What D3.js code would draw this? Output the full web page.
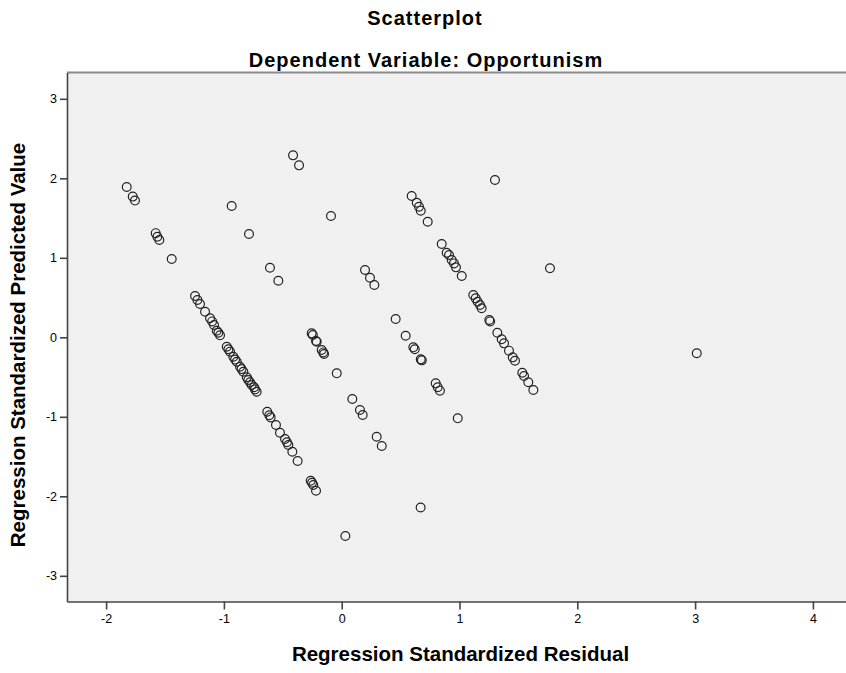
<!DOCTYPE html>
<html>
<head>
<meta charset="utf-8">
<script src="https://cdn.jsdelivr.net/npm/d3@7"></script>
<style>
	body { margin: 0; background: #fff; }
	text { font-family: "Liberation Sans", Arial, sans-serif; fill: #000; }
	.tick text { font-size: 12.5px; }
	.title { font-size: 20px; font-weight: bold; letter-spacing: 1px; }
	.axis-label { font-size: 20.5px; font-weight: bold; }
</style>
</head>
<body>
<script>
// Regression Standardized Residual (x) / Predicted Value (y)
const residual = [
	-1.825, -1.774, -1.755, -1.579, -1.565, -1.548, -1.443,
	-1.245, -1.225, -1.203, -1.16, -1.118, -1.1, -1.084, -1.061, -1.047, -1.033,
	-0.976, -0.962, -0.948, -0.92, -0.905, -0.891, -0.863, -0.85, -0.835, -0.806,
	-0.793, -0.778, -0.764, -0.744, -0.736, -0.722,
	-0.632, -0.615, -0.603, -0.558, -0.524, -0.481, -0.465, -0.453, -0.419, -0.374,
	-0.263, -0.252, -0.241, -0.218,
	-0.934, -0.787, -0.609, -0.538, -0.413, -0.362, -0.091,
	-0.255, -0.245, -0.218, -0.212, -0.17, -0.156, -0.15, -0.042, 0.09, 0.155, 0.178,
	0.297, 0.34, 0.031, 0.67,
	0.198, 0.24, 0.277, 0.458, 0.543, 0.608, 0.62, 0.671, 0.68, 0.798, 0.815, 0.834, 0.985,
	0.594, 0.637, 0.656, 0.671, 0.73, 0.849, 0.891, 0.911, 0.934, 0.953, 0.97, 1.019,
	1.117, 1.137, 1.154, 1.174, 1.188, 1.253, 1.26, 1.321, 1.358, 1.378, 1.42, 1.452,
	1.471, 1.533, 1.548, 1.584, 1.627,
	1.301, 1.768, 3.014
];
const predicted = [
	1.89, 1.77, 1.72, 1.31, 1.265, 1.224, 0.985,
	0.52, 0.47, 0.419, 0.322, 0.239, 0.2, 0.155, 0.083, 0.058, 0.025,
	-0.118, -0.15, -0.18, -0.244, -0.28, -0.307, -0.37, -0.4, -0.433, -0.503,
	-0.537, -0.566, -0.6, -0.629, -0.655, -0.684,
	-0.936, -0.98, -1.007, -1.103, -1.2, -1.28, -1.32, -1.355, -1.439, -1.556,
	-1.804, -1.83, -1.858, -1.93,
	1.652, 1.3, 0.876, 0.712, 2.289, 2.163, 1.526,
	0.05, 0.03, -0.047, -0.055, -0.16, -0.19, -0.21, -0.453, -0.776, -0.914, -0.977,
	-1.25, -1.367, -2.5, -2.14,
	0.847, 0.75, 0.658, 0.23, 0.02, -0.126, -0.15, -0.277, -0.29, -0.579, -0.629, -0.671, -1.019,
	1.777, 1.693, 1.643, 1.593, 1.454, 1.174, 1.064, 1.035, 0.972, 0.93, 0.88, 0.771,
	0.532, 0.49, 0.448, 0.406, 0.365, 0.218, 0.2, 0.058, -0.025, -0.076, -0.168, -0.252,
	-0.294, -0.445, -0.487, -0.566, -0.663,
	1.979, 0.868, -0.201
];
const xTicks = [-2, -1, 0, 1, 2, 3, 4];
const yTicks = [-3, -2, -1, 0, 1, 2, 3];

const points = residual.map((r, i) => ({ r: r, p: predicted[i] }));

const width = 846,
	height = 673;
const plotLeft = 67, plotRight = 846, plotTop = 72.5, plotBottom = 601.5;

const svg = d3.select("body")
	.append("svg")
	.attr("width", width)
	.attr("height", height);

const x = d3.scaleLinear().domain([-2.332, 4.281]).range([plotLeft, plotRight]);
const y = d3.scaleLinear().domain([-3.323, 3.331]).range([plotBottom, plotTop]);

// plot background + top border
svg.append("rect")
	.attr("x", plotLeft)
	.attr("y", plotTop)
	.attr("width", plotRight - plotLeft)
	.attr("height", plotBottom - plotTop)
	.attr("fill", "#f0f0f0");

svg.append("line")
	.attr("x1", plotLeft).attr("x2", plotRight)
	.attr("y1", plotTop).attr("y2", plotTop)
	.attr("stroke", "#8a8a8a")
	.attr("stroke-width", 2);

const xAxis = d3.axisBottom(x).tickValues(xTicks).tickFormat(d => String(d))
	.tickSize(8).tickPadding(5).tickSizeOuter(0);
const yAxis = d3.axisLeft(y).tickValues(yTicks).tickFormat(d => String(d))
	.tickSize(7).tickPadding(3).tickSizeOuter(0);

svg.append("g")
	.attr("class", "x-axis")
	.attr("transform", "translate(0," + plotBottom + ")")
	.call(xAxis);

svg.append("g")
	.attr("class", "y-axis")
	.attr("transform", "translate(" + plotLeft + ",0)")
	.call(yAxis);

svg.selectAll(".domain, .tick line")
	.attr("stroke", "#444")
	.attr("stroke-width", 1.6);

svg.selectAll(".tick text").attr("fill", "#000");

// points
svg.append("g")
	.selectAll("circle")
	.data(points)
	.enter()
	.append("circle")
	.attr("cx", d => x(d.r))
	.attr("cy", d => y(d.p))
	.attr("r", 4.4)
	.attr("fill", "none")
	.attr("stroke", "#222")
	.attr("stroke-width", 1.2);

// titles
svg.append("text")
	.attr("class", "title")
	.attr("x", 425)
	.attr("y", 25)
	.attr("text-anchor", "middle")
	.text("Scatterplot");

svg.append("text")
	.attr("class", "title")
	.attr("x", 426)
	.attr("y", 67)
	.attr("text-anchor", "middle")
	.text("Dependent Variable: Opportunism");

svg.append("text")
	.attr("class", "axis-label")
	.attr("x", 460.5)
	.attr("y", 660.5)
	.attr("text-anchor", "middle")
	.text("Regression Standardized Residual");

svg.append("text")
	.attr("class", "axis-label")
	.attr("transform", "translate(25," + 345 + ") rotate(-90)")
	.attr("text-anchor", "middle")
	.text("Regression Standardized Predicted Value");
</script>
</body>
</html>
